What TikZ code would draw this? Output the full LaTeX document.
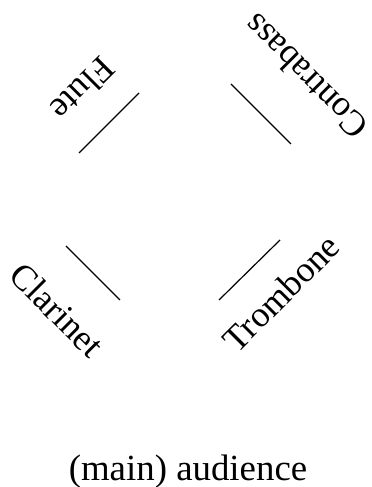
\documentclass[tikz,border=0pt]{standalone}
\usepackage{fontspec}
\setmainfont{Liberation Serif}
\begin{document}
\begin{tikzpicture}[x=1bp,y=1bp,
  desk/.style={line width=1.2bp},
  part/.style={inner sep=0pt,font=\fontsize{36}{40}\selectfont}]
\useasboundingbox (0,0) rectangle (371,487);
% music stands
\coordinate (fluteA) at (79,334);
\coordinate (fluteB) at (139,394);
\coordinate (bassA) at (231,403);
\coordinate (bassB) at (291,343);
\coordinate (clarA) at (66,241);
\coordinate (clarB) at (120,187);
\coordinate (tromA) at (219,187);
\coordinate (tromB) at (280,247);
\draw[desk] (fluteA) -- (fluteB);
\draw[desk] (bassA) -- (bassB);
\draw[desk] (clarA) -- (clarB);
\draw[desk] (tromA) -- (tromB);
% instrument labels
\node[part,rotate=225] (flute) at (83,398) {Flute};
\node[part,rotate=135] (bass) at (305,410) {Contrabass};
\node[part,rotate=-45] (clar) at (57,177) {Clarinet};
\node[part,rotate=45] (trom) at (281,194) {Trombone};
\node[inner sep=0pt,font=\fontsize{37}{42}\selectfont] (aud) at (188,15) {(main) audience};
\end{tikzpicture}
\end{document}
